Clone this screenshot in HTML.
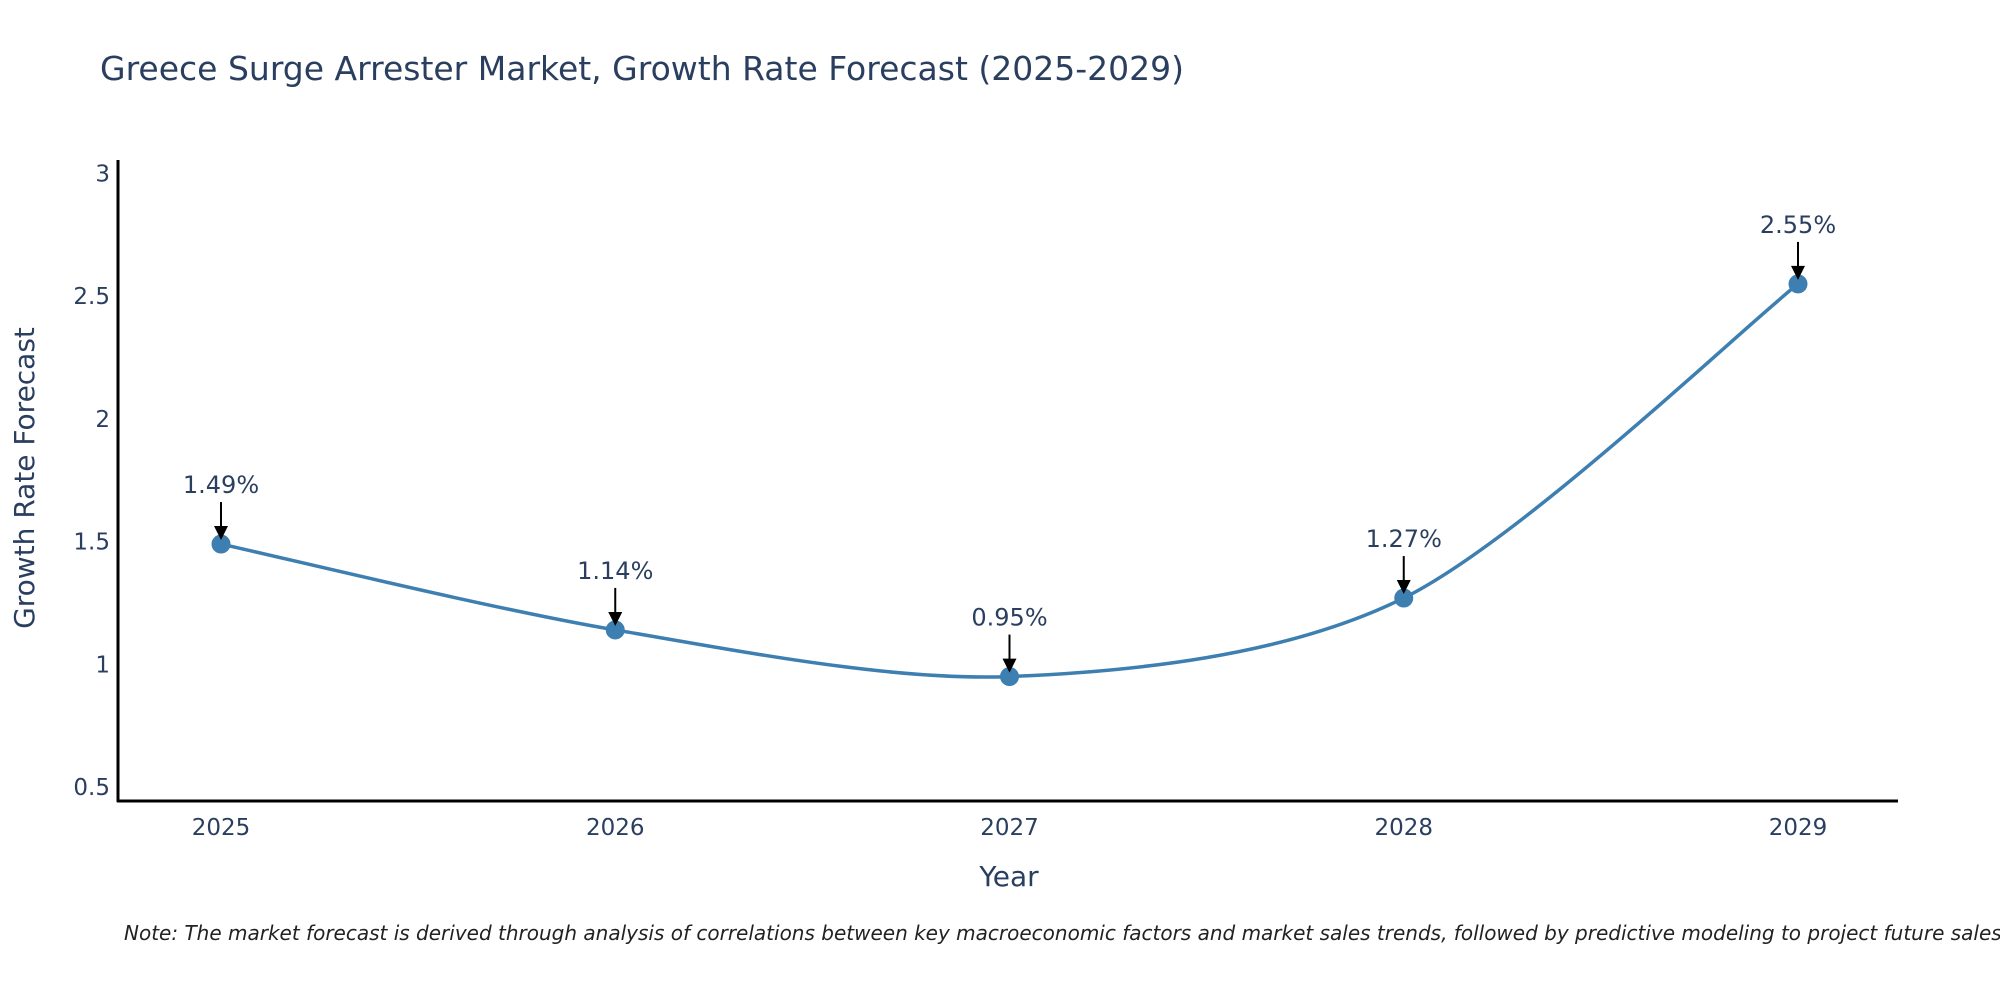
<!DOCTYPE html>
<html><head><meta charset="utf-8"><style>
body{margin:0;background:#fff;}
svg{display:block;font-family:"DejaVu Sans","Liberation Sans",sans-serif;}
</style></head><body>
<svg id="chart" width="2000" height="1000" viewBox="0 0 2000 1000">
<text x="100" y="80" font-size="33" fill="#2a3f5f">Greece Surge Arrester Market, Growth Rate Forecast (2025-2029)</text>
<g id="yticks"></g>
<g id="xticks"></g>
<line x1="118" y1="160" x2="118" y2="802" stroke="#000" stroke-width="3"/>
<line x1="117" y1="801" x2="1898" y2="801" stroke="#000" stroke-width="3"/>
<text transform="translate(34,478) rotate(-90)" text-anchor="middle" font-size="28" fill="#2a3f5f">Growth Rate Forecast</text>
<text x="1009" y="886" text-anchor="middle" font-size="28" fill="#2a3f5f">Year</text>
<g id="series"></g>
<text x="124" y="940" font-size="20" font-style="italic" fill="#222">Note: The market forecast is derived through analysis of correlations between key macroeconomic factors and market sales trends, followed by predictive modeling to project future sales.</text>
</svg>
<script>
const years = ["2025","2026","2027","2028","2029"];
const values = [1.49, 1.14, 0.95, 1.27, 2.55];
const labels = ["1.49%","1.14%","0.95%","1.27%","2.55%"];
const yTickValues = [0.5, 1, 1.5, 2, 2.5, 3];
const yTickLabels = ["0.5","1","1.5","2","2.5","3"];

const NS = "http://www.w3.org/2000/svg";
function xScale(i){ return 221 + i*394.25; }
function yScale(v){ return 787 - (v-0.5)*245.4; }
function mk(tag, attrs, parent){ const e=document.createElementNS(NS,tag); for(const k in attrs) e.setAttribute(k,attrs[k]); parent.appendChild(e); return e; }

const yt=document.getElementById('yticks');
yTickValues.forEach((v,i)=>{
  const t=mk('text',{x:110,y:yScale(v)+8,'text-anchor':'end','font-size':23,fill:'#2a3f5f'},yt);
  
  
  t.textContent=yTickLabels[i];
});
const xt=document.getElementById('xticks');
years.forEach((y,i)=>{
  const t=mk('text',{x:xScale(i),y:835,'text-anchor':'middle','font-size':23,fill:'#2a3f5f'},xt);
  
  
  t.textContent=y;
});

const g=document.getElementById('series');
const pts=values.map((v,i)=>[xScale(i),yScale(v)]);
let d="M"+pts[0][0]+","+pts[0][1];
const s=0.3;
for(let i=0;i<pts.length-1;i++){
  const p0=pts[Math.max(0,i-1)],p1=pts[i],p2=pts[i+1],p3=pts[Math.min(pts.length-1,i+2)];
  const c1=[p1[0]+(p2[0]-p0[0])*s/2, p1[1]+(p2[1]-p0[1])*s/2];
  const c2=[p2[0]-(p3[0]-p1[0])*s/2, p2[1]-(p3[1]-p1[1])*s/2];
  d+=" C"+c1[0]+","+c1[1]+" "+c2[0]+","+c2[1]+" "+p2[0]+","+p2[1];
}
const line=mk('path',{d:d,fill:'none',stroke:'#3d7fb0','stroke-width':3.5},g);


pts.forEach((p,i)=>{
  const c=mk('circle',{cx:p[0],cy:p[1],r:9.5,fill:'#3d7fb0'},g);
  
  
  const a=mk('line',{x1:p[0],y1:p[1]-42,x2:p[0],y2:p[1]-16,stroke:'#000','stroke-width':2},g);
  
  
  const h=mk('polygon',{points:(p[0]-7)+","+(p[1]-18)+" "+(p[0]+7)+","+(p[1]-18)+" "+p[0]+","+(p[1]-4)},g);
  
  
  const t=mk('text',{x:p[0],y:p[1]-51,'text-anchor':'middle','font-size':24,fill:'#2a3f5f'},g);
  
  
  t.textContent=labels[i];
});
</script>
</body></html>
